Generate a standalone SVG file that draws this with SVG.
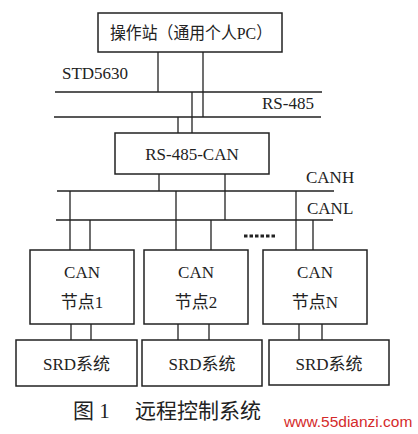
<svg xmlns="http://www.w3.org/2000/svg" width="418" height="434" viewBox="0 0 418 434">
<style>
.box{fill:#fff;stroke:#222;stroke-width:1.5}
.ln{stroke:#222;stroke-width:1.3;fill:none}
.t{font-family:"Liberation Serif","Noto Sans CJK SC",serif;font-size:17px;fill:#222}
.c{text-anchor:middle}
.wm{font-family:"Liberation Sans",Arial,sans-serif;font-size:15.5px;fill:#d42a2a}
</style>
<rect width="418" height="434" fill="#fff"/>
<g id="connectors">
<path class="ln" d="M158 52V92M203 52V117M55 92H322M54 117H321M192 92V133M178 117V133"/>
<path class="ln" d="M159 174V191M225 174V220M57 191H334M56 220H333"/>
<path class="ln" d="M70 191V250M90 220V250M176 191V250M211 220V250M296 191V250M313 220V250"/>
<path class="ln" d="M71 324V340M91 324V340M178 324V340M209 324V340M299 324V340M322 324V340"/>
</g>
<g id="labels">
<text class="t" x="62" y="79">STD5630</text>
<text class="t" x="262" y="109">RS-485</text>
<text class="t" x="306" y="183">CANH</text>
<text class="t" x="307" y="214">CANL</text>
<path d="M244 236H277" stroke="#222" stroke-width="3" stroke-dasharray="3.5 2"/>
</g>
<g id="pc">
<rect class="box" x="98" y="13" width="184" height="39"/>
<text class="t" x="110" y="39" textLength="162" lengthAdjust="spacingAndGlyphs">操作站（通用个人PC）</text>
</g>
<g id="gateway">
<rect class="box" x="115" y="133" width="154" height="41"/>
<text class="t c" x="192" y="160">RS-485-CAN</text>
</g>
<g id="can1">
<rect class="box" x="30" y="250" width="104" height="74"/>
<text class="t c" x="82" y="278">CAN</text>
<text class="t c" x="82" y="308">节点1</text>
</g>
<g id="can2">
<rect class="box" x="144" y="250" width="104" height="74"/>
<text class="t c" x="196" y="278">CAN</text>
<text class="t c" x="196" y="308">节点2</text>
</g>
<g id="canN">
<rect class="box" x="263" y="250" width="104" height="74"/>
<text class="t c" x="315" y="278">CAN</text>
<text class="t c" x="315" y="308">节点N</text>
</g>
<g id="srd1">
<rect class="box" x="16" y="340" width="121" height="46"/>
<text class="t c" x="76.5" y="370">SRD系统</text>
</g>
<g id="srd2">
<rect class="box" x="142" y="340" width="120" height="46"/>
<text class="t c" x="202" y="370">SRD系统</text>
</g>
<g id="srd3">
<rect class="box" x="269" y="340" width="120" height="45"/>
<text class="t c" x="329" y="370">SRD系统</text>
</g>
<g id="caption">
<text class="t" x="73" y="418" style="font-size:21px">图 1</text>
<text class="t" x="135" y="418" style="font-size:21px">远程控制系统</text>
<text class="wm" x="284" y="427">www.55dianzi.com</text>
</g>
</svg>
